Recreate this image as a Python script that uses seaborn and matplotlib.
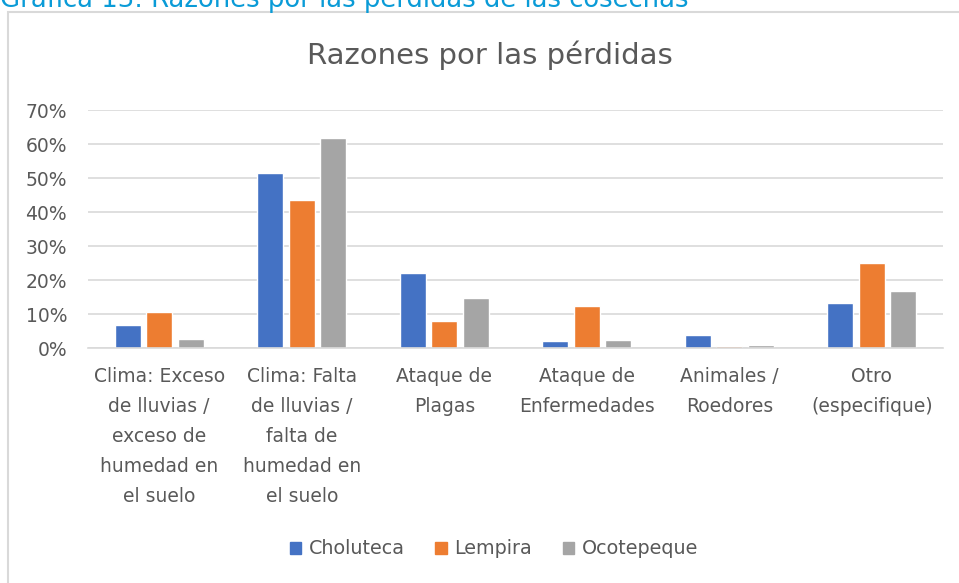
import matplotlib
matplotlib.use("Agg")
import matplotlib.pyplot as plt
import matplotlib.patches as mpatches
import pandas as pd
import seaborn as sns
from matplotlib.ticker import PercentFormatter

# ==============================================================================
# DATA
# ==============================================================================
categories = [
    "Clima: Exceso\nde lluvias /\nexceso de\nhumedad en\nel suelo",
    "Clima: Falta\nde lluvias /\nfalta de\nhumedad en\nel suelo",
    "Ataque de\nPlagas",
    "Ataque de\nEnfermedades",
    "Animales /\nRoedores",
    "Otro\n(especifique)",
]
regions = ["Choluteca", "Lempira", "Ocotepeque"]
choluteca = [0.068, 0.515, 0.220, 0.022, 0.037, 0.132]
lempira = [0.106, 0.435, 0.080, 0.125, 0.006, 0.250]
ocotepeque = [0.026, 0.618, 0.147, 0.025, 0.010, 0.169]
colors = ["#4472C4", "#ED7D31", "#A5A5A5"]

TEXT = "#595959"
GRID = "#D9D9D9"

sns.set_style("white")
plt.rcParams["font.family"] = ["DejaVu Sans"]

df = pd.DataFrame({
    "Categoria": categories * 3,
    "Region": [r for r in regions for _ in categories],
    "Valor": choluteca + lempira + ocotepeque,
})

W, H = 959, 583
fig = plt.figure(figsize=(W / 100, H / 100), dpi=100)

# outer chart frame (runs past the right and bottom edges)
fig.patches.append(mpatches.Rectangle(
    (8 / W, -0.05), 1.0, 1 - 12 / H + 0.05,
    transform=fig.transFigure, fill=False, edgecolor="#D9D9D9", linewidth=1.5
))

# caption, cut off at the top like the source screenshot
fig.text(0, 1 - 7 / H, "Gráfica 13: Razones por las pérdidas de las cosechas",
         color="#0A9BD7", fontsize=18.6, ha="left", va="baseline")

ax = fig.add_axes([88 / W, 1 - 348 / H, 855 / W, 238 / H])

sns.barplot(
    data=df, x="Categoria", y="Valor", hue="Region",
    palette=colors, width=0.66, gap=0.17, ax=ax, legend=False,
    saturation=1,
)

ax.set_ylim(0, 0.7)
ax.set_yticks([i / 10 for i in range(8)])
ax.yaxis.set_major_formatter(PercentFormatter(1.0, decimals=0))
ax.grid(axis="y", color=GRID, linewidth=1.2)
ax.set_axisbelow(True)
for s in ["top", "right", "left"]:
    ax.spines[s].set_visible(False)
ax.spines["bottom"].set_color(GRID)
ax.spines["bottom"].set_linewidth(1.2)
ax.tick_params(axis="both", length=0, colors=TEXT, labelsize=13.5)
ax.tick_params(axis="y", pad=15)
ax.tick_params(axis="x", pad=14)
ax.set_xlabel("")
ax.set_ylabel("")
for lbl in ax.get_xticklabels():
    lbl.set_linespacing(1.72)
    lbl.set_va("top")

fig.text(490 / W, 1 - 55 / H, "Razones por las pérdidas",
         color=TEXT, fontsize=21, ha="center", va="center")

handles = [mpatches.Patch(color=c, label=r) for c, r in zip(colors, regions)]
fig.legend(
    handles=handles, loc="center", bbox_to_anchor=(494 / W, 1 - 549 / H),
    ncol=3, frameon=False, fontsize=13.8, labelcolor=TEXT,
    handlelength=0.6, handleheight=0.6, handletextpad=0.4, columnspacing=1.6,
)

fig.savefig("out.png", dpi=100)
